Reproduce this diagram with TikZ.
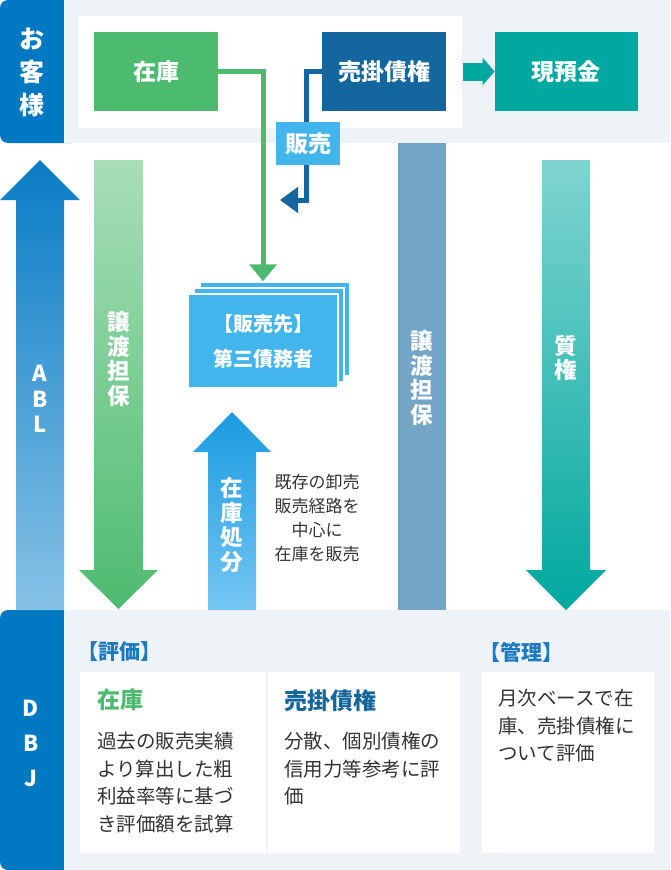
\documentclass[tikz,border=0pt]{standalone}
\usepackage{fontspec}
\setmainfont{Noto Sans CJK JP}
\usepackage{tikz}
\usetikzlibrary{arrows.meta, positioning}
\definecolor{tabblue}{HTML}{0079C2}
\definecolor{bandgray}{HTML}{EEF3F7}
\definecolor{zaikogreen}{HTML}{4DBB6F}
\definecolor{urinavy}{HTML}{14679E}
\definecolor{genteal}{HTML}{00A89F}
\definecolor{skyblue}{HTML}{42B5EC}
\definecolor{barblue}{HTML}{74A5C6}
\definecolor{headblue}{HTML}{1C7BC0}
\definecolor{bodygray}{HTML}{333333}
\definecolor{abltop}{HTML}{0A7CC5}
\definecolor{ablbot}{HTML}{86C1E6}
\definecolor{jototop}{HTML}{A8DEB8}
\definecolor{shobuntop}{HTML}{1A9BE0}
\definecolor{shobunbot}{HTML}{74C6F3}
\definecolor{shichitop}{HTML}{80D4D0}
\tikzstyle{topbox} = [rectangle, fill=zaikogreen, minimum width=124pt, minimum height=79pt,
  inner sep=0pt, text=white, font=\fontsize{23}{26}\selectfont\bfseries]
\tikzstyle{sakibox} = [rectangle, fill=skyblue, draw=white, line width=1.5pt, minimum width=150pt,
  minimum height=94pt, text=white, align=center, font=\fontsize{20}{35}\selectfont\bfseries]
\tikzstyle{vtext} = [align=center, text=white, inner sep=0pt, font=\fontsize{22.5}{24.5}\selectfont\bfseries]
\tikzstyle{evalbox} = [rectangle, fill=white, anchor=north west, minimum height=181pt, inner sep=0pt]
\tikzstyle{evalhead} = [anchor=north west, inner sep=0pt, font=\fontsize{23}{26}\selectfont\bfseries]
\tikzstyle{evalbody} = [anchor=north west, inner sep=0pt, align=left, text=bodygray,
  font=\fontsize{19.5}{27.5}\selectfont]
\tikzstyle{bracket} = [anchor=west, inner sep=0pt, text=headblue, font=\fontsize{21}{24}\selectfont\bfseries]
\tikzstyle{flowline} = [line width=5pt, -{Triangle[length=17pt, width=27pt]}]

\begin{document}
\begin{tikzpicture}[x=1pt, y=-1pt]
    \useasboundingbox (0,0) rectangle (670,870);
    \fill[tabblue, rounded corners=8pt] (0,0) rectangle (80,143);
    \fill[bandgray] (64,0) rectangle (670,143);
    \fill[tabblue, rounded corners=8pt] (0,610) rectangle (80,870);
    \fill[bandgray] (64,610) rectangle (670,870);
    \fill[white] (78,16) rectangle (462,128);
    \node[vtext, font=\fontsize{25}{33}\selectfont\bfseries] (kyaku) at (32,72) {お\\客\\様};
    \node[vtext, font=\fontsize{22}{35}\selectfont\bfseries] (dbj) at (31,743) {D\\B\\J};

    \node[topbox] (zaiko) at (156,71.5) {在庫};
    \node[topbox, fill=urinavy, right=104pt of zaiko] (uri) {売掛債権};
    \node[topbox, fill=genteal, minimum width=143pt, right=48pt of uri] (gen) {現預金};
    \draw[line width=18pt, genteal, -{Triangle[length=12pt, width=27pt]}] ([xshift=16pt]uri.east) -- (gen.west);

    \shade[top color=abltop, bottom color=ablbot] (16,610) -- (16,200) -- (0,200) -- (40,160)
      -- (80,200) -- (64,200) -- (64,610) -- cycle;
    \node[vtext, font=\fontsize{22}{25.5}\selectfont\bfseries] (abl) at (40,399) {A\\B\\L};
    \shade[top color=jototop, bottom color=zaikogreen] (94,160) -- (143,160) -- (143,570)
      -- (158,570) -- (118.5,609) -- (79,570) -- (94,570) -- cycle;
    \node[vtext] (joto1) at (118.5,359) {譲\\渡\\担\\保};
    \shade[top color=shobuntop, bottom color=shobunbot] (208,610) -- (208,452) -- (193,452)
      -- (232,412) -- (271,452) -- (256,452) -- (256,610) -- cycle;
    \node[vtext] (shobun) at (232,525) {在\\庫\\処\\分};
    \node[align=center, text=bodygray, font=\fontsize{17}{24}\selectfont] (route) at (317,518)
      {既存の卸売\\販売経路を\\中心に\\在庫を販売};
    \fill[barblue] (398,143) rectangle (446,610);
    \node[vtext] (joto2) at (422,378) {譲\\渡\\担\\保};
    \shade[top color=shichitop, bottom color=genteal] (542,160) -- (590,160) -- (590,570)
      -- (606,570) -- (566,610) -- (526,570) -- (542,570) -- cycle;
    \node[vtext] (shichi) at (566,358) {質\\権};

    \node[sakibox] (saki3) at (275,329) {};
    \node[sakibox] (saki2) at (269,335) {};
    \node[sakibox] (saki) at (263,341) {【販売先】\\第三債務者};
    \draw[flowline, zaikogreen] (zaiko.east) -| (saki.north |- saki3.north);
    \coordinate (sale) at (280,200);
    \draw[flowline, urinavy, -{Triangle[length=18pt, width=25pt]}] (uri.west) -- ++(-16,0) |- (sale);
    \node[fill=skyblue, minimum width=64pt, minimum height=43pt, inner sep=0pt, text=white,
      font=\fontsize{23}{26}\selectfont\bfseries] (hanbai) at (308,143.5) {販売};

    \node[bracket] (hyoka) at (77,652) {【評価】};
    \node[bracket] (kanri) at (479,652) {【管理】};
    \node[evalbox, minimum width=186pt] (ev1) at (80,672) {};
    \node[evalbox, minimum width=192pt] (ev2) at (268,672) {};
    \node[evalbox, minimum width=172pt] (ev3) at (482,672) {};
    \node[evalhead, text=zaikogreen] (ev1h) at ([shift={(17,17)}]ev1.north west) {在庫};
    \node[evalhead, text=urinavy] (ev2h) at ([shift={(16,17)}]ev2.north west) {売掛債権};
    \node[evalbody] (ev1b) at ([shift={(17,60)}]ev1.north west)
      {過去の販売実績\\より算出した粗\\利益率等に基づ\\き評価額を試算};
    \node[evalbody] (ev2b) at ([shift={(16,60)}]ev2.north west)
      {分散、個別債権の\\信用力等参考に評\\価};
    \node[evalbody] (ev3b) at ([shift={(16,17)}]ev3.north west)
      {月次ベースで在\\庫、売掛債権に\\ついて評価};
\end{tikzpicture}
\end{document}
